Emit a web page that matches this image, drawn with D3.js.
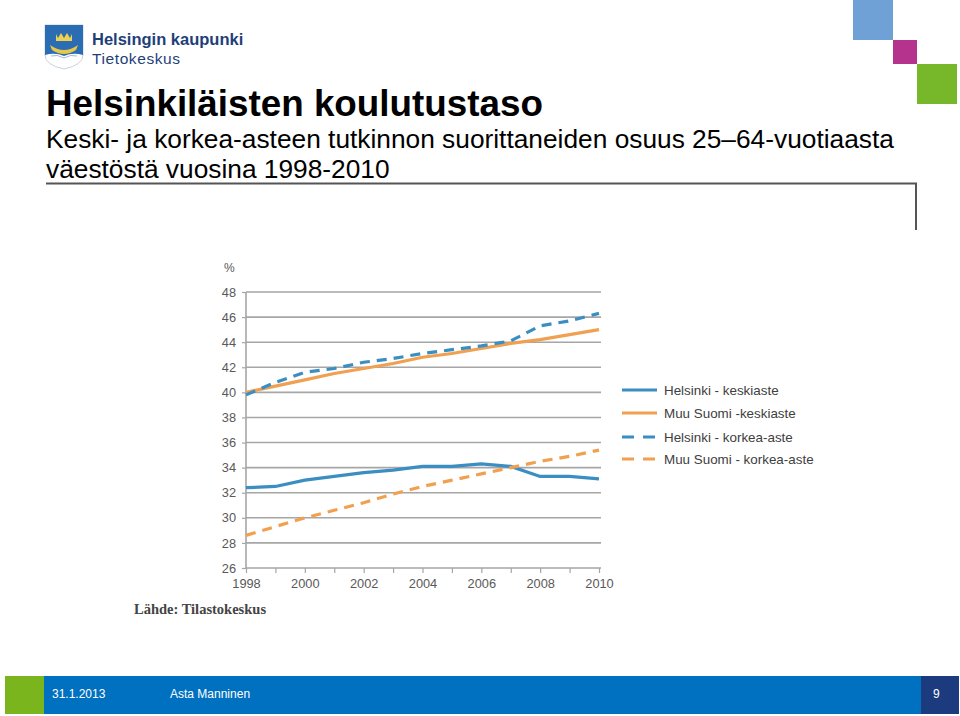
<!DOCTYPE html>
<html><head><meta charset="utf-8">
<script src="https://cdn.jsdelivr.net/npm/d3@7"></script>
<style>
html,body{margin:0;padding:0;background:#fff;}
svg{display:block;font-family:"Liberation Sans",Arial,sans-serif;}
</style></head>
<body>
<svg id="c" width="960" height="716"></svg>
<script>
const years = [1998,1999,2000,2001,2002,2003,2004,2005,2006,2007,2008,2009,2010];
const helKeski = [32.4,32.5,33.0,33.3,33.6,33.8,34.1,34.1,34.3,34.1,33.3,33.3,33.1];
const muuKeski = [40.0,40.5,41.0,41.5,41.9,42.3,42.8,43.1,43.5,43.9,44.2,44.6,45.0];
const helKorkea = [39.8,40.8,41.6,41.9,42.4,42.7,43.1,43.4,43.7,44.1,45.3,45.7,46.3];
const muuKorkea = [28.6,29.3,30.0,30.6,31.2,31.9,32.5,33.0,33.5,34.0,34.5,34.9,35.4];
const yTicks = [26,28,30,32,34,36,38,40,42,44,46,48];
const xTickLabels = [1998,2000,2002,2004,2006,2008,2010];
const seriesNames = ["Helsinki - keskiaste","Muu Suomi -keskiaste","Helsinki - korkea-aste","Muu Suomi - korkea-aste"];

const svg = d3.select("#c");
const blue = "#3b8ec2", orange = "#f0a050";
const series = [
  {name: seriesNames[0], values: helKeski, color: blue, dash: null},
  {name: seriesNames[1], values: muuKeski, color: orange, dash: null},
  {name: seriesNames[2], values: helKorkea, color: blue, dash: "10,7"},
  {name: seriesNames[3], values: muuKorkea, color: orange, dash: "10,7"}
];

// top-right squares
svg.append("rect").attr("x",853).attr("y",0).attr("width",40).attr("height",40).attr("fill","#6fa1d6");
svg.append("rect").attr("x",893).attr("y",40).attr("width",24).attr("height",24).attr("fill","#b5338c");
svg.append("rect").attr("x",917).attr("y",64).attr("width",40).attr("height",40).attr("fill","#77b72a");

// logo crest
const lg = svg.append("g").attr("transform","translate(45,25)");
lg.append("path").attr("d","M0,0 H38 V30 Q38,40 19,44 Q0,40 0,30 Z").attr("fill","#fff").attr("stroke","#c9d3de").attr("stroke-width",1);
lg.append("path").attr("d","M0,0 H38 V30 Q28,27 19,31 Q10,27 0,30 Z").attr("fill","#2b6db3");
lg.append("path").attr("d","M5,20 Q19,30 33,20 L31,25 Q19,33 7,25 Z").attr("fill","#e8c64a");
lg.append("path").attr("d","M11,9 L13,13 L16,8 L19,13 L22,8 L25,13 L27,9 L27,16 L11,16 Z").attr("fill","#f0d050");
lg.append("path").attr("d","M6,31 Q12,29 19,33 Q26,29 32,31").attr("fill","none").attr("stroke","#9fb8d8").attr("stroke-width",1);

svg.append("text").attr("x",92).attr("y",44.5).attr("font-size",16.5).attr("font-weight","bold").attr("fill","#1f3f7a").text("Helsingin kaupunki");
svg.append("text").attr("x",92).attr("y",64).attr("font-size",15.5).attr("fill","#1f3f7a").attr("textLength",88).text("Tietokeskus");

// title
svg.append("text").attr("x",46).attr("y",116).attr("font-size",36.8).attr("font-weight","bold").attr("fill","#000").text("Helsinkiläisten koulutustaso");
svg.append("text").attr("x",46).attr("y",148).attr("font-size",26.3).attr("fill","#000").text("Keski- ja korkea-asteen tutkinnon suorittaneiden osuus 25\u201364-vuotiaasta");
svg.append("text").attr("x",46).attr("y",178).attr("font-size",26.3).attr("fill","#000").text("väestöstä vuosina 1998-2010");
svg.append("path").attr("d","M46,183.5 H916 V230").attr("fill","none").attr("stroke","#555").attr("stroke-width",2);

// chart
const x = d3.scaleLinear().domain([1998,2010]).range([246,599]);
const y = d3.scaleLinear().domain([26,48]).range([568,292]);
const gridC = "#a6a6a6", labC = "#595959";

// gridlines
svg.append("g").selectAll("line").data(yTicks.filter(d=>d>26)).join("line")
  .attr("x1",246).attr("x2",601).attr("y1",d=>y(d)).attr("y2",d=>y(d))
  .attr("stroke",gridC).attr("stroke-width",1.6);

// y axis
const yAxis = svg.append("g").attr("transform","translate(246,0)")
  .call(d3.axisLeft(y).tickValues(yTicks).tickSize(4).tickPadding(6).tickFormat(d3.format("d")));
yAxis.select(".domain").attr("stroke",gridC).attr("stroke-width",1.6).attr("d","M0,292V568");
yAxis.selectAll(".tick line").attr("stroke",gridC).attr("stroke-width",1.2);
yAxis.selectAll(".tick text").attr("fill",labC).attr("font-size",12.8).attr("font-family","'Liberation Sans',Arial,sans-serif");

// x axis
const xAxis = svg.append("g").attr("transform","translate(0,568)")
  .call(d3.axisBottom(x).tickValues(years).tickSize(5).tickPadding(6).tickFormat(d=>xTickLabels.includes(d)?d:""));
xAxis.select(".domain").attr("stroke",gridC).attr("stroke-width",1.6).attr("d","M246,0H601");
xAxis.selectAll(".tick line").attr("stroke",gridC).attr("stroke-width",1.2);
xAxis.selectAll(".tick text").attr("fill",labC).attr("font-size",12.8).attr("font-family","'Liberation Sans',Arial,sans-serif");

svg.append("text").attr("x",224).attr("y",272).attr("font-size",12).attr("fill",labC).text("%");

// lines
const line = d3.line().x((d,i)=>x(years[i])).y(d=>y(d));
svg.append("g").selectAll("path").data(series).join("path")
  .attr("d",d=>line(d.values)).attr("fill","none").attr("stroke",d=>d.color)
  .attr("stroke-width",3.2).attr("stroke-dasharray",d=>d.dash);

// legend
const lgd = svg.append("g");
const legY = [390,413,437,459];
series.forEach((s,i)=>{
  lgd.append("line").attr("x1",622).attr("x2",657).attr("y1",legY[i]).attr("y2",legY[i])
    .attr("stroke",s.color).attr("stroke-width",3.2).attr("stroke-dasharray",s.dash?"12,9":null);
  lgd.append("text").attr("x",664).attr("y",legY[i]+4.5).attr("font-size",13.4).attr("fill","#404040").text(s.name);
});

// source
svg.append("text").attr("x",134).attr("y",614).attr("font-size",14.5).attr("font-weight","bold")
  .attr("font-family","'Liberation Serif','Times New Roman',serif").attr("fill","#444").text("Lähde: Tilastokeskus");

// footer
svg.append("rect").attr("x",5).attr("y",676).attr("width",950).attr("height",38).attr("fill","#0070c0");
svg.append("rect").attr("x",5).attr("y",676).attr("width",39).attr("height",38).attr("fill","#7ab51d");
svg.append("rect").attr("x",921).attr("y",676).attr("width",38).attr("height",38).attr("fill","#1c3b7e");
svg.append("text").attr("x",52).attr("y",698).attr("font-size",12).attr("fill","#fff").text("31.1.2013");
svg.append("text").attr("x",170).attr("y",698).attr("font-size",12).attr("fill","#fff").text("Asta Manninen");
svg.append("text").attr("x",933).attr("y",698).attr("font-size",12).attr("fill","#fff").text("9");
</script>
</body></html>
